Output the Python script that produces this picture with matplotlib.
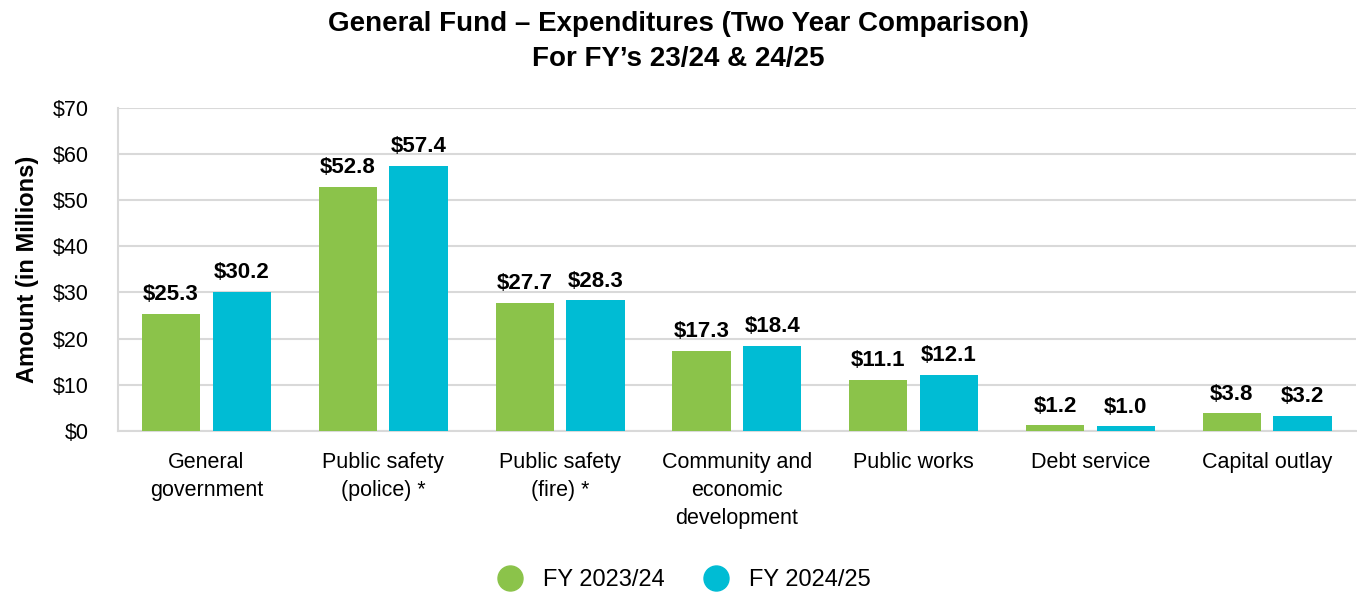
import numpy as np
import matplotlib.pyplot as plt
from matplotlib.lines import Line2D

plt.rcParams['font.family'] = ['Liberation Sans', 'DejaVu Sans']

categories = ["General\ngovernment", "Public safety\n(police) *", "Public safety\n(fire) *",
              "Community and\neconomic\ndevelopment", "Public works", "Debt service",
              "Capital outlay"]
fy2324 = [25.3, 52.8, 27.7, 17.3, 11.1, 1.2, 3.8]
fy2425 = [30.2, 57.4, 28.3, 18.4, 12.1, 1.0, 3.2]
series_names = ["FY 2023/24", "FY 2024/25"]
yticks = [0, 10, 20, 30, 40, 50, 60, 70]

green = "#8BC34A"
cyan = "#00BCD4"
grid_c = "#D9D9D9"

fig = plt.figure(figsize=(13.57, 5.92), dpi=100)
ax = fig.add_axes([0.087, 0.272, 0.912, 0.546])

x = np.arange(len(categories))
w = 0.33
off = 0.2
b1 = ax.bar(x - off, fy2324, w, color=green, zorder=3)
b2 = ax.bar(x + off, fy2425, w, color=cyan, zorder=3)

for bars, vals in ((b1, fy2324), (b2, fy2425)):
    for rect, v in zip(bars, vals):
        ax.text(rect.get_x() + rect.get_width() / 2, v + 1.9, f"${v:.1f}",
                ha="center", va="bottom", fontsize=16, fontweight="bold")

ax.set_xlim(-0.5, len(categories) - 0.5)
ax.set_ylim(0, 70)
ax.set_yticks(yticks)
ax.set_yticklabels([f"${t}" for t in yticks], fontsize=15.5)
ax.set_xticks(x)
ax.set_xticklabels(categories, fontsize=15.5, linespacing=1.45, va="top")
ax.tick_params(axis="both", length=0)
ax.tick_params(axis="y", pad=21)
ax.tick_params(axis="x", pad=15)
ax.yaxis.grid(True, color=grid_c, linewidth=1.5, zorder=0)
for s in ("top", "right"):
    ax.spines[s].set_visible(False)
for s in ("left", "bottom"):
    ax.spines[s].set_color(grid_c)
    ax.spines[s].set_linewidth(1.5)

ax.set_ylabel("Amount (in Millions)", fontsize=17, fontweight="bold", labelpad=10)

fig.suptitle("General Fund \u2013 Expenditures (Two Year Comparison)\nFor FY\u2019s 23/24 & 24/25",
             fontsize=20, fontweight="bold", y=0.982, linespacing=1.45)

handles = [Line2D([], [], marker="o", linestyle="none", markersize=18, color=c)
           for c in (green, cyan)]
fig.legend(handles, series_names, loc="lower center", bbox_to_anchor=(0.5, -0.035),
           ncol=2, frameon=False, fontsize=17, handletextpad=0.4, columnspacing=1.2)

fig.savefig("out.png", dpi=100)
